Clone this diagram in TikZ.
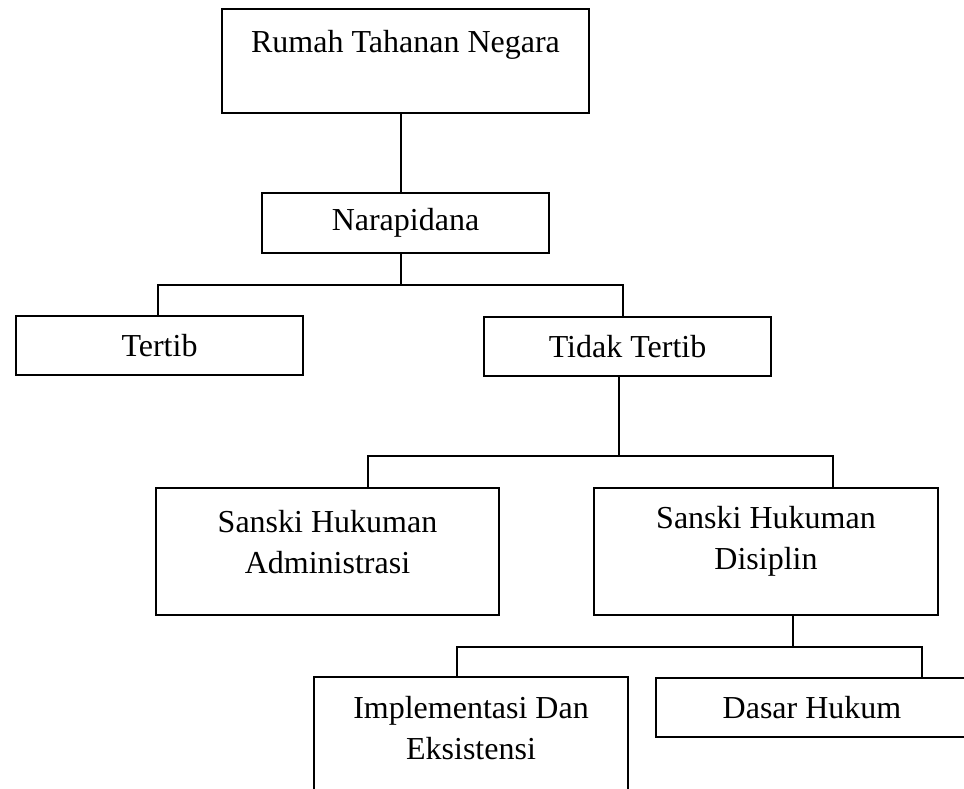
\documentclass[tikz,border=0pt]{standalone}
\usepackage{fontspec}
\setmainfont{Liberation Serif}
\usetikzlibrary{positioning}

\begin{document}
\begin{tikzpicture}[
  x=0.5pt, y=-0.5pt,
  font=\fontsize{16pt}{20.5pt}\selectfont,
  box/.style={draw=black, line width=0.8pt, inner sep=0pt, align=center},
  caption/.style={inner sep=0pt, align=center},
  link/.style={draw=black, line width=0.8pt}
]
\useasboundingbox (0,0) rectangle (964,788);
\clip (0,0) rectangle (964,788);

% boxes
\node[box, minimum width=183.5pt, minimum height=52pt] (rtn) at (405.5,61) {};
\node[caption] (rtntext) at (405.5,45) {Rumah Tahanan Negara};
\node[box, minimum width=143.5pt, minimum height=30pt] (nar) at (405.5,223) {Narapidana};
\node[box, minimum width=143.5pt, minimum height=29.5pt] (ter) at (159.5,345.5) {Tertib};
\node[box, minimum width=143.5pt, minimum height=29.5pt] (tt) at (627.5,346.5) {Tidak Tertib};
\node[box, minimum width=171.5pt, minimum height=63.5pt] (adm) at (327.5,551.5) {};
\node[caption] (admtext) at (327.5,542) {Sanski Hukuman\\Administrasi};
\node[box, minimum width=172pt, minimum height=63.5pt] (dis) at (766,551.5) {};
\node[caption] (distext) at (766,541) {Sanski Hukuman\\Disiplin};
\node[box, minimum width=157pt, minimum height=65pt] (imp) at (471,742) {};
\node[caption] (imptext) at (471,728) {Implementasi Dan\\Eksistensi};
\node[box, minimum width=156pt, minimum height=29.5pt] (das) at (812,707.5) {Dasar Hukum};

% forks
\coordinate (f1) at (401,285);
\coordinate (f1l) at (158,285);
\coordinate (f1r) at (623,285);
\coordinate (f2) at (619,456);
\coordinate (f2l) at (368,456);
\coordinate (f2r) at (833,456);
\coordinate (f3) at (793,647);
\coordinate (f3l) at (457,647);
\coordinate (f3r) at (922,647);

\draw[link] (rtn.south -| f1) -- (nar.north -| f1);
\draw[link] (nar.south -| f1) -- (f1);
\draw[link] (ter.north -| f1l) -- (f1l) -- (f1r) -- (tt.north -| f1r);
\draw[link] (tt.south -| f2) -- (f2);
\draw[link] (adm.north -| f2l) -- (f2l) -- (f2r) -- (dis.north -| f2r);
\draw[link] (dis.south -| f3) -- (f3);
\draw[link] (imp.north -| f3l) -- (f3l) -- (f3r) -- (das.north -| f3r);
\end{tikzpicture}
\end{document}
